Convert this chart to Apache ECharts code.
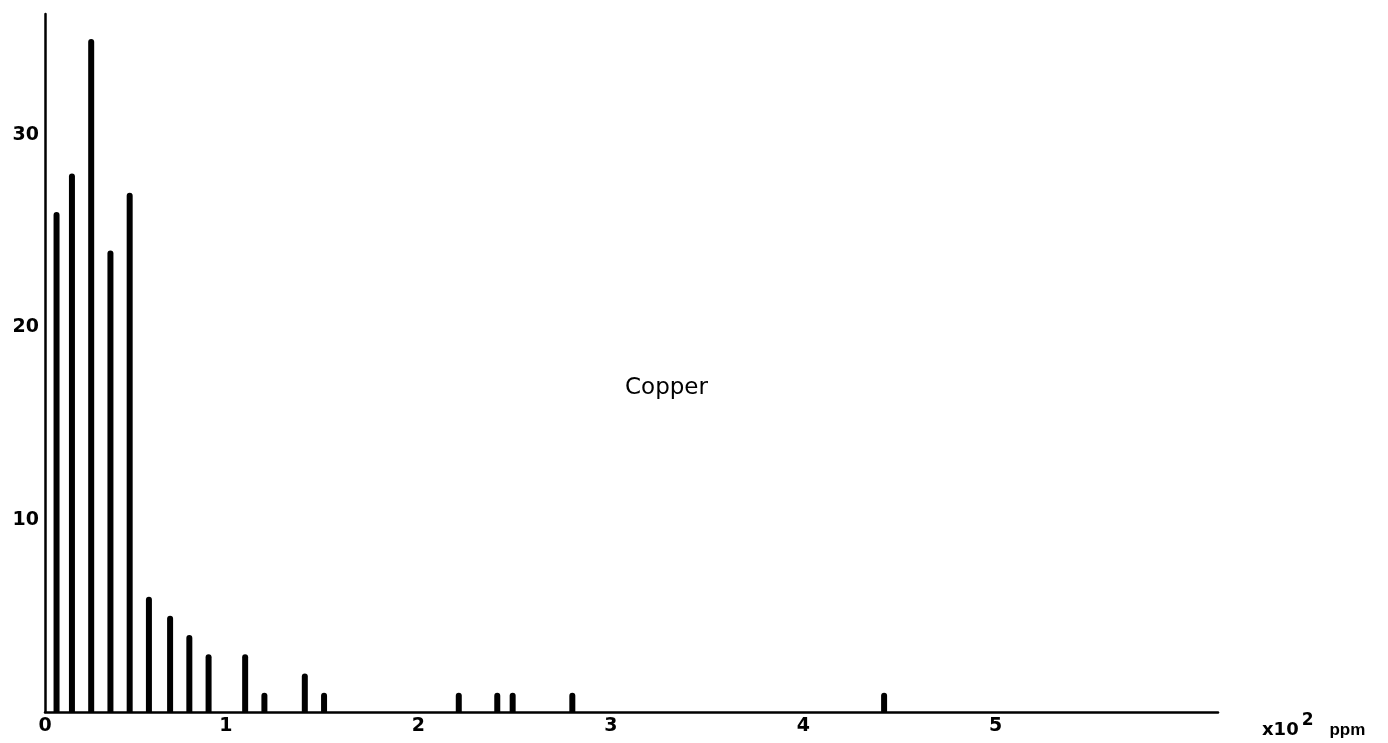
<!DOCTYPE html>
<html>
<head>
<meta charset="utf-8">
<script src="https://cdn.jsdelivr.net/npm/echarts@6/dist/echarts.min.js"></script>
<style>
  html, body { margin: 0; padding: 0; background: #fff; }
  #chart { width: 1388px; height: 743px; }
</style>
</head>
<body>
<div id="chart"></div>
<script>
// Concentration classes (x10^2 ppm) and number of samples
const concentrations = [0.12, 0.2, 0.3, 0.4, 0.5, 0.6, 0.71, 0.81, 0.91, 1.1, 1.2, 1.41, 1.51, 2.21, 2.41, 2.49, 2.8, 4.42];
const counts = [26, 28, 35, 24, 27, 6, 5, 4, 3, 3, 1, 2, 1, 1, 1, 1, 1, 1];
const xTickValues = [1, 2, 3, 4, 5];
const yTickValues = [10, 20, 30];
const chartLabel = 'Copper';

const xStart = 0.06;   // where the vertical axis meets the horizontal axis (labelled "0")
const xEnd = 6.155;
const yEnd = 36.3;

const chart = echarts.init(document.getElementById('chart'), null, { renderer: 'canvas' });
const labelFont = { color: '#000', fontFamily: 'DejaVu Sans', fontWeight: 'bold', fontSize: 19 };

chart.setOption({
  backgroundColor: '#fff',
  animation: false,
  title: {
    text: chartLabel,
    left: 620,
    top: 372,
    textStyle: { color: '#000', fontFamily: 'DejaVu Sans', fontWeight: 'normal', fontSize: 23 }
  },
  grid: { left: 45, right: 170, top: 14, bottom: 31, containLabel: false },
  xAxis: {
    type: 'value',
    min: xStart,
    max: xEnd,
    axisLine: { show: true, onZero: false, lineStyle: { color: '#000', width: 2.5 } },
    axisTick: { show: false },
    splitLine: { show: false },
    axisLabel: Object.assign({
      customValues: [xStart].concat(xTickValues),
      margin: 5,
      formatter: function (v) { return v < 0.5 ? '0' : String(Math.round(v)); }
    }, labelFont),
    name: '{a|x10}{sup|2}{b|ppm}',
    nameLocation: 'end',
    nameGap: 44,
    nameTextStyle: {
      align: 'left',
      verticalAlign: 'top',
      padding: [0, 0, 0, 0],
      rich: {
        a: { fontFamily: 'DejaVu Sans', fontWeight: 'bold', fontSize: 18, color: '#000' },
        sup: { fontFamily: 'DejaVu Sans', fontWeight: 'bold', fontSize: 17, color: '#000', padding: [0, 0, 20, 3] },
        b: { fontFamily: 'Liberation Sans', fontWeight: 'bold', fontSize: 17, color: '#000', padding: [0, 0, 0, 16] }
      }
    }
  },
  yAxis: {
    type: 'value',
    min: 0,
    max: yEnd,
    axisLine: { show: true, lineStyle: { color: '#000', width: 2.5 } },
    axisTick: { show: false },
    splitLine: { show: false },
    axisLabel: Object.assign({
      customValues: yTickValues,
      margin: 6,
      formatter: function (v) { return String(v); }
    }, labelFont)
  },
  series: [{
    type: 'bar',
    barWidth: 6,
    itemStyle: { color: '#000', borderRadius: [3, 3, 0, 0] },
    data: concentrations.map(function (c, i) { return [c, counts[i]]; })
  }]
});
</script>
</body>
</html>
